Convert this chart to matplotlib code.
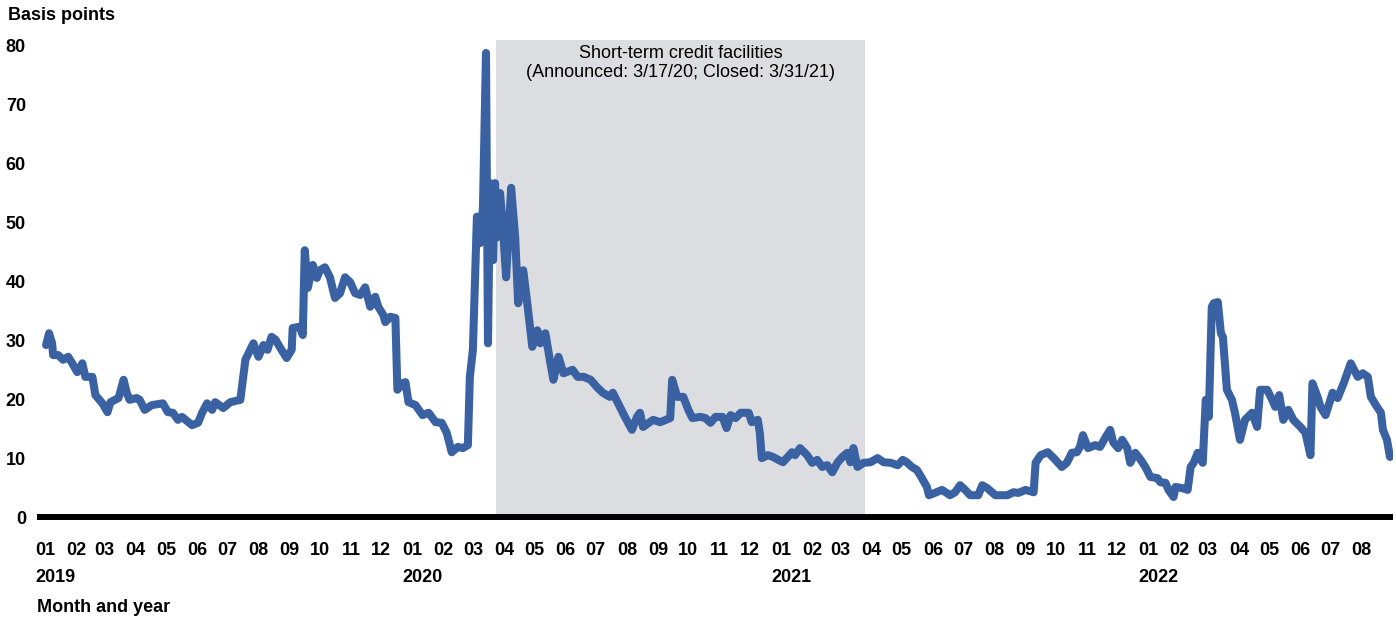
import matplotlib
matplotlib.use("Agg")
import matplotlib.pyplot as plt
import matplotlib.dates as mdates
import pandas as pd

# ---- data ----
start_date = "2019-01-01"
days_since_start = [
    1, 4, 7, 8, 13, 18, 23, 27, 32, 37, 40, 47, 50, 57, 62, 65, 73, 78, 81, 84,
    91, 94, 99, 106, 117, 122, 127, 132, 136, 146, 152, 156, 161, 166, 169, 177, 184, 194, 199, 207,
    212, 217, 221, 225, 229, 233, 240, 245, 246, 253, 256, 258, 261, 266, 270, 273, 278, 283, 288, 293,
    298, 303, 308, 313, 318, 323, 328, 331, 336, 338, 343, 348, 350, 355, 358, 361, 368, 375, 381, 388,
    394, 399, 404, 410, 415, 420, 422, 425, 429, 432, 435, 438, 440, 442, 445, 447, 449, 452, 455, 458,
    463, 467, 470, 475, 479, 484, 489, 492, 497, 502, 505, 510, 515, 524, 529, 535, 542, 548, 554, 561,
    564, 571, 576, 583, 588, 591, 594, 604, 611, 621, 623, 628, 634, 639, 643, 651, 656, 661, 666, 673,
    677, 681, 686, 691, 699, 702, 708, 710, 712, 718, 723, 733, 742, 745, 750, 757, 762, 767, 772, 777,
    782, 787, 792, 797, 800, 803, 807, 813, 820, 827, 833, 840, 847, 852, 856, 861, 866, 871, 876, 878,
    884, 891, 899, 904, 909, 914, 919, 927, 931, 936, 944, 956, 962, 967, 974, 982, 984, 989, 996, 1002,
    1010, 1015, 1020, 1025, 1028, 1031, 1036, 1043, 1048, 1053, 1058, 1061, 1066, 1070, 1075, 1078, 1083, 1088, 1093, 1098,
    1105, 1108, 1113, 1116, 1121, 1123, 1130, 1135, 1138, 1141, 1145, 1150, 1153, 1156, 1159, 1161, 1165, 1168, 1170, 1174,
    1179, 1182, 1187, 1192, 1199, 1204, 1207, 1214, 1219, 1222, 1226, 1230, 1235, 1240, 1247, 1252, 1257, 1259, 1264, 1267,
    1272, 1279, 1284, 1290, 1297, 1304, 1309, 1314, 1317, 1322, 1327, 1329, 1333, 1336,
]
spread_bp = [
    29.2, 31.2, 29.5, 27.5, 27.5, 26.7, 27.2, 26.1, 24.6, 26.1, 23.8, 23.8, 20.7, 19.3, 17.8, 19.5, 20.2, 23.3, 21.2, 19.9,
    20.2, 19.9, 18.2, 19.0, 19.3, 17.8, 17.7, 16.5, 17.0, 15.6, 16.0, 17.7, 19.3, 18.2, 19.5, 18.5, 19.5, 19.9, 26.7, 29.5,
    27.2, 29.2, 28.4, 30.6, 30.1, 28.9, 27.0, 28.4, 32.1, 32.3, 30.9, 45.3, 38.9, 42.8, 40.6, 41.9, 42.4, 40.7, 37.2, 38.0,
    40.7, 39.9, 38.0, 37.7, 39.0, 35.7, 37.4, 35.7, 34.3, 33.1, 34.0, 33.8, 21.6, 22.7, 22.9, 19.5, 19.0, 17.3, 17.7, 16.1,
    16.0, 14.3, 11.0, 11.9, 11.7, 12.2, 23.8, 28.4, 51.0, 46.5, 52.6, 78.8, 29.5, 56.7, 43.6, 56.7, 47.5, 55.0, 48.7, 40.7,
    55.9, 47.5, 36.3, 41.9, 36.3, 28.9, 31.7, 29.5, 31.2, 26.1, 23.3, 27.2, 24.4, 25.0, 23.8, 23.8, 23.3, 22.1, 21.1, 20.4,
    21.1, 18.7, 17.0, 14.8, 17.0, 17.7, 15.3, 16.5, 16.1, 16.8, 23.3, 20.4, 20.4, 18.2, 16.8, 17.0, 16.8, 16.0, 17.0, 17.0,
    15.1, 17.3, 16.8, 17.7, 17.7, 16.1, 16.5, 14.3, 10.0, 10.5, 10.2, 9.3, 11.0, 10.5, 11.7, 10.5, 9.2, 9.7, 8.5, 8.8,
    7.6, 9.2, 10.2, 10.9, 9.3, 11.7, 8.5, 9.2, 9.3, 10.0, 9.3, 9.2, 8.8, 9.7, 9.3, 8.5, 8.0, 6.6, 5.1, 3.7,
    4.1, 4.6, 3.7, 4.2, 5.4, 4.6, 3.7, 3.7, 5.4, 4.9, 3.7, 3.7, 4.2, 4.1, 4.6, 4.2, 9.2, 10.5, 11.0, 10.0,
    8.5, 9.2, 10.9, 11.0, 11.9, 13.9, 11.7, 12.2, 11.9, 13.4, 14.8, 12.7, 11.7, 13.1, 11.7, 9.2, 10.9, 9.8, 8.5, 6.8,
    6.6, 5.9, 5.8, 4.6, 3.4, 5.1, 4.9, 4.6, 8.5, 9.2, 10.9, 9.2, 19.9, 17.0, 35.7, 36.3, 36.5, 31.2, 30.6, 21.6,
    19.9, 17.7, 13.1, 16.5, 17.7, 15.3, 21.6, 21.6, 19.9, 18.7, 20.7, 16.5, 18.2, 16.5, 15.3, 14.3, 10.5, 22.7, 20.4, 18.7,
    17.3, 21.1, 20.2, 22.7, 26.1, 23.8, 24.4, 23.8, 20.4, 19.0, 17.7, 14.8, 13.1, 10.2,
]
month_labels = ["01", "02", "03", "04", "05", "06", "07", "08", "09", "10", "11", "12"] * 3 + \
               ["01", "02", "03", "04", "05", "06", "07", "08"]
year_labels = ["2019", "2020", "2021", "2022"]
y_ticks = [0, 10, 20, 30, 40, 50, 60, 70, 80]
shade_start, shade_end = "2020-03-24", "2021-03-26"
shade_text = "Short-term credit facilities\n(Announced: 3/17/20; Closed: 3/31/21)"

dates = pd.Timestamp(start_date) + pd.to_timedelta(days_since_start, unit="D")
month_ticks = pd.date_range("2019-01-01", periods=len(month_labels), freq="MS")
year_ticks = pd.to_datetime([f"{y}-01-01" for y in year_labels])

plt.rcParams["font.family"] = ["Liberation Sans", "DejaVu Sans"]

fig = plt.figure(figsize=(13.96, 6.22), dpi=100)
ax = fig.add_axes([37 / 1396, 1 - 517 / 622, (1393 - 37) / 1396, (517 - 40) / 622])

ax.axvspan(pd.Timestamp(shade_start), pd.Timestamp(shade_end), color="#dcdde0", lw=0, zorder=0)
ax.plot(dates, spread_bp, color="#3a62a2", lw=5.8, solid_joinstyle="round",
        solid_capstyle="round", zorder=3)

ax.set_xlim(pd.Timestamp("2018-12-24"), pd.Timestamp("2022-09-01"))
ax.set_ylim(0, 81.0)

ax.set_yticks(y_ticks)
ax.set_yticklabels([str(v) for v in y_ticks])
ax.set_xticks(month_ticks)
ax.set_xticklabels(month_labels)
ax.tick_params(axis="both", length=0, labelsize=13)
ax.tick_params(axis="x", pad=18)
ax.tick_params(axis="y", pad=8)
for lab in ax.get_xticklabels() + ax.get_yticklabels():
    lab.set_fontweight("bold")

for s in ["left", "right", "top"]:
    ax.spines[s].set_visible(False)
ax.spines["bottom"].set_linewidth(4.3)
ax.spines["bottom"].set_color("black")
ax.spines["bottom"].set_capstyle("butt")
ax.spines["bottom"].set_zorder(5)

for yt, yl in zip(year_ticks, year_labels):
    ax.annotate(yl, xy=(mdates.date2num(yt), 0), xycoords=("data", "axes fraction"),
                xytext=(-10, -61), textcoords="offset pixels", ha="left", va="center",
                fontsize=13, fontweight="bold")

mid = pd.Timestamp(shade_start) + (pd.Timestamp(shade_end) - pd.Timestamp(shade_start)) / 2
ax.text(mdates.date2num(mid), 80.1, shade_text, ha="center", va="top", fontsize=13,
        linespacing=1.15, zorder=4)

fig.text(8 / 1396, 1 - 15 / 622, "Basis points", ha="left", va="center",
         fontsize=13, fontweight="bold")
fig.text(37 / 1396, 1 - 608 / 622, "Month and year", ha="left", va="center",
         fontsize=13, fontweight="bold")

fig.savefig("out.png", dpi=100)
